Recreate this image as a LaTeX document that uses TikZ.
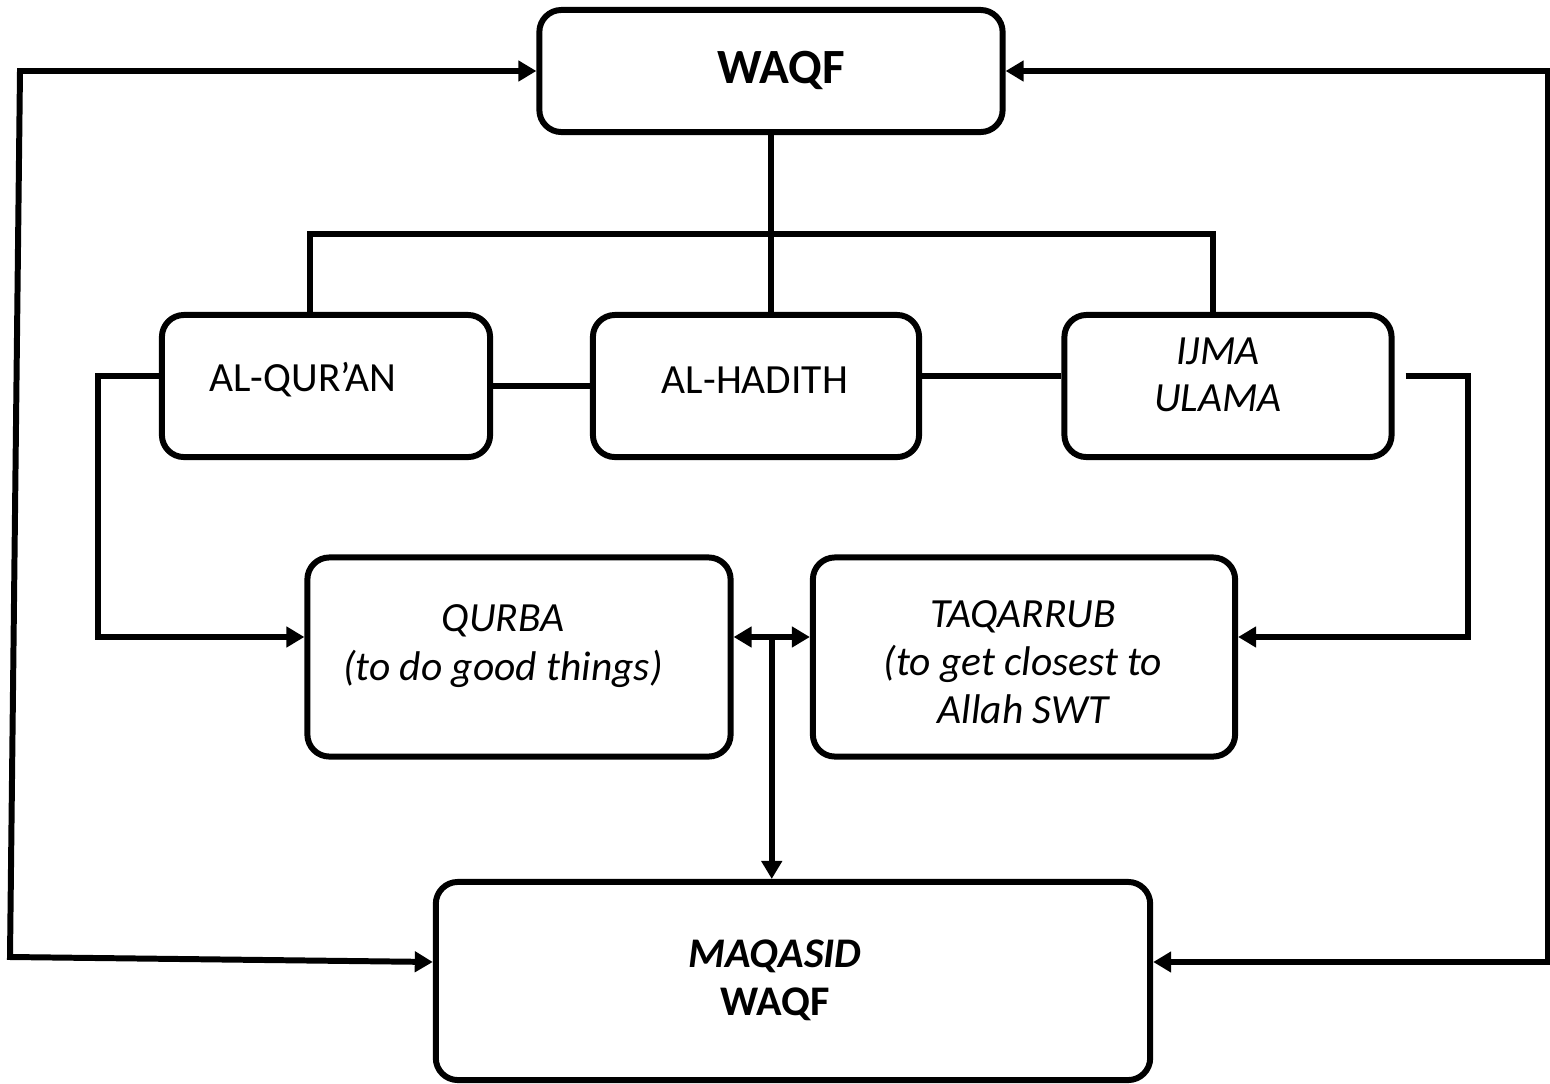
\documentclass[tikz,border=0pt]{standalone}
\usepackage{fontspec}
\setmainfont{Carlito}
\usetikzlibrary{arrows.meta}
\begin{document}
\begin{tikzpicture}[x=0.01cm, y=-0.01cm,
				box/.style={draw, line width=1.7pt, rounded corners=0.22cm},
				txt/.style={align=center, inner sep=0, font=\fontsize{11.8}{13.8}\selectfont},
				link/.style={line width=1.7pt},
				tip/.style={-{Triangle[length=0.18cm,width=0.2cm]}},
				tips/.style={{Triangle[length=0.18cm,width=0.2cm]}-{Triangle[length=0.18cm,width=0.2cm]}}]
				\useasboundingbox (0,0) rectangle (1550,1084);
				
				\node [box, minimum width=4.63cm, minimum height=1.22cm] (waqf) at (771,71) {};
				\node [box, minimum width=3.28cm, minimum height=1.42cm] (quran) at (326,386) {};
				\node [box, minimum width=3.26cm, minimum height=1.42cm] (hadith) at (756,386) {};
				\node [box, minimum width=3.27cm, minimum height=1.42cm] (ijma) at (1228,386) {};
				\node [box, minimum width=4.23cm, minimum height=1.99cm] (qurba) at (519,657) {};
				\node [box, minimum width=4.22cm, minimum height=1.99cm] (taqarrub) at (1024,657) {};
				\node [box, minimum width=7.14cm, minimum height=1.98cm] (maqasid) at (793,981) {};
				
				\node [txt, font=\fontsize{14}{16}\selectfont\bfseries] (waqf-t) at (781,70) {WAQF};
				\node [txt] (quran-t) at (303,380) {AL-QUR’AN};
				\node [txt] (hadith-t) at (755,380) {AL-HADITH};
				\node [txt, font=\fontsize{11.8}{13.4}\selectfont\itshape] (ijma-t) at (1218,375) {IJMA\\ULAMA};
				\node [txt, font=\fontsize{11.8}{13.8}\selectfont\itshape] (qurba-t) at (503,646) {QURBA\\(to do good things)};
				\node [txt, font=\fontsize{11.8}{13.6}\selectfont\itshape] (taqarrub-t) at (1023,662) {TAQARRUB\\(to get closest to\\Allah SWT};
				\node [txt, font=\fontsize{12}{13.6}\selectfont\bfseries] (maqasid-t) at (775,980) {\textit{MAQASID}\\WAQF};
				
				\coordinate (busl) at (310,234);
				\coordinate (busr) at (1213,234);
				\coordinate (tl) at (20,71);
				\coordinate (bl) at (10,957);
				\coordinate (tr) at (1548,71);
				\coordinate (br) at (1548,962);
				
				\begin{scope}[link]
				\draw (waqf.south) -- (waqf.south |- hadith.north);
				\draw (quran.north -| busl) |- (busr) -- (busr |- ijma.north);
				\draw (quran.east) -- (hadith.west);
				\draw ([yshift=0.1cm]hadith.east) -- ([yshift=0.1cm]ijma.west);
				\draw [tip] ([yshift=0.1cm]quran.west) -- ++(-61,0) |- ([yshift=0.2cm]qurba.west);
				\draw [tip] ([xshift=0.11cm,yshift=0.1cm]ijma.east) -- ++(62,0) |- ([yshift=0.2cm]taqarrub.east);
				\draw [tips] ([yshift=0.2cm]qurba.east) -- coordinate (mid) ([yshift=0.2cm]taqarrub.west);
				\draw [tip] (mid) -- (mid |- maqasid.north);
				\draw [tips] (waqf.west) -- (tl) -- (bl) -- ([yshift=0.19cm]maqasid.west);
				\draw [tips] (waqf.east) -- (tr) -- (br) -- ([yshift=0.19cm]maqasid.east);
				\end{scope}
\end{tikzpicture}
\end{document}
